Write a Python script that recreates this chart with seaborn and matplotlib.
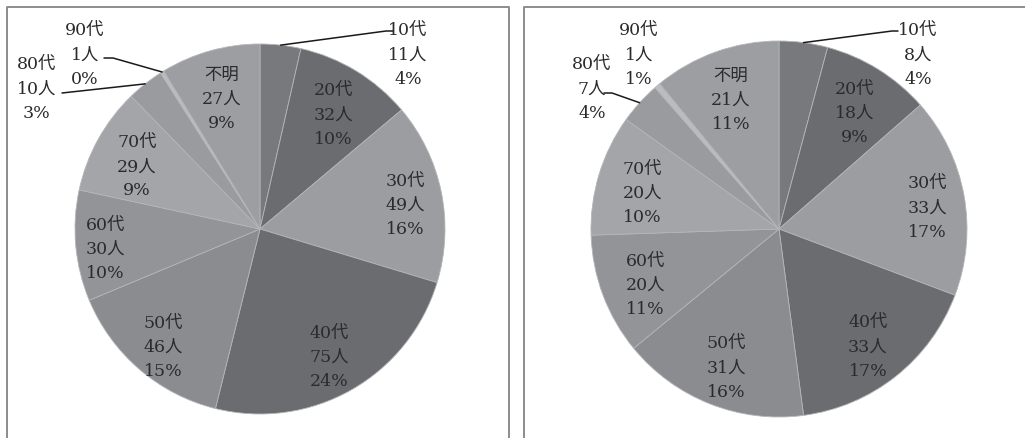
import numpy as np
import matplotlib
matplotlib.use('Agg')
import matplotlib.pyplot as plt
import seaborn as sns

# 年代別の人数 (左: 前回, 右: 今回)
ages = ['10代', '20代', '30代', '40代', '50代', '60代', '70代', '80代', '90代', '不明']
left_counts = [11, 32, 49, 75, 46, 30, 29, 10, 1, 27]
left_pcts = [4, 10, 16, 24, 15, 10, 9, 3, 0, 9]
right_counts = [8, 18, 33, 33, 31, 20, 20, 7, 1, 21]
right_pcts = [4, 9, 17, 17, 16, 11, 10, 4, 1, 11]

slice_colors = ['#78797d', '#6b6c70', '#9c9da1', '#6b6c70', '#8b8c90',
                '#939498', '#a4a5a9', '#9a9b9f', '#bcbcbe', '#9d9ea2']

sns.set_theme(style='white')
plt.rcParams['font.family'] = ['DejaVu Serif', 'Noto Sans CJK JP']

W, H = 1025, 439
fig = plt.figure(figsize=(W / 100, H / 100), dpi=100)
ax = fig.add_axes([0, 0, 1, 1])
ax.set_xlim(0, W)
ax.set_ylim(0, H)
ax.axis('off')


def py(y):
    # 画像の上からのピクセル -> データ座標
    return H - y


# 外側ラベルの位置とリーダー線 (ピクセル, 上基準)
panels = [
    dict(counts=left_counts, pcts=left_pcts, cx=260, cy=230, r=185,
         shift={5: 0.84, 2: 0.8, 4: 0.8},
         outside={0: ((408, 55), [(386, 32), (393, 32)]),
                  7: ((37, 89), [(62, 94)]),
                  8: ((85, 55), [(113, 59), (104, 59)])}),
    dict(counts=right_counts, pcts=right_pcts, cx=779, cy=230, r=188,
         shift={2: 0.8},
         outside={0: ((918, 55), [(892, 32), (898, 32)]),
                  7: ((592, 89), [(612, 94), (604, 94)]),
                  8: ((639, 55), None)}),
]

# 枠線
frame_kw = dict(color='#8c8c8c', lw=1.4, solid_capstyle='butt')
ax.plot([7, 7, 509, 509], [py(H + 5), py(7.5), py(7.5), py(H + 5)], **frame_kw)
ax.plot([524, 524, W + 5], [py(H + 5), py(7.5), py(7.5)], **frame_kw)

text_kw = dict(fontsize=12.5, ha='center', va='center', ma='center',
               linespacing=1.55, color='#2b2b2b')

for p in panels:
    counts = np.array(p['counts'])
    wedges, _ = ax.pie(counts, colors=slice_colors, startangle=90, counterclock=False,
                       radius=p['r'], center=(p['cx'], py(p['cy'])),
                       wedgeprops=dict(edgecolor='#b4b5b8', linewidth=0.6), frame=True)
    for i, w in enumerate(wedges):
        label = f"{ages[i]}\n{counts[i]}人\n{p['pcts'][i]}%"
        mid = np.deg2rad((w.theta1 + w.theta2) / 2)
        if i in p['outside']:
            (tx, ty), leader = p['outside'][i]
            ax.text(tx, py(ty), label, **text_kw)
            if leader:
                ex = p['cx'] + p['r'] * np.cos(mid)
                ey = py(p['cy']) + p['r'] * np.sin(mid)
                xs = [ex] + [q[0] for q in leader]
                ys = [ey] + [py(q[1]) for q in leader]
                ax.plot(xs, ys, color='#1a1a1a', lw=1.1)
        else:
            d = p['shift'].get(i, 0.76) * p['r']
            ax.text(p['cx'] + d * np.cos(mid), py(p['cy']) + d * np.sin(mid) - 5, label, **text_kw)

ax.set_xlim(0, W)
ax.set_ylim(0, H)
ax.set_aspect('auto')
ax.axis('off')

fig.savefig('out.png', dpi=100, facecolor='white')
